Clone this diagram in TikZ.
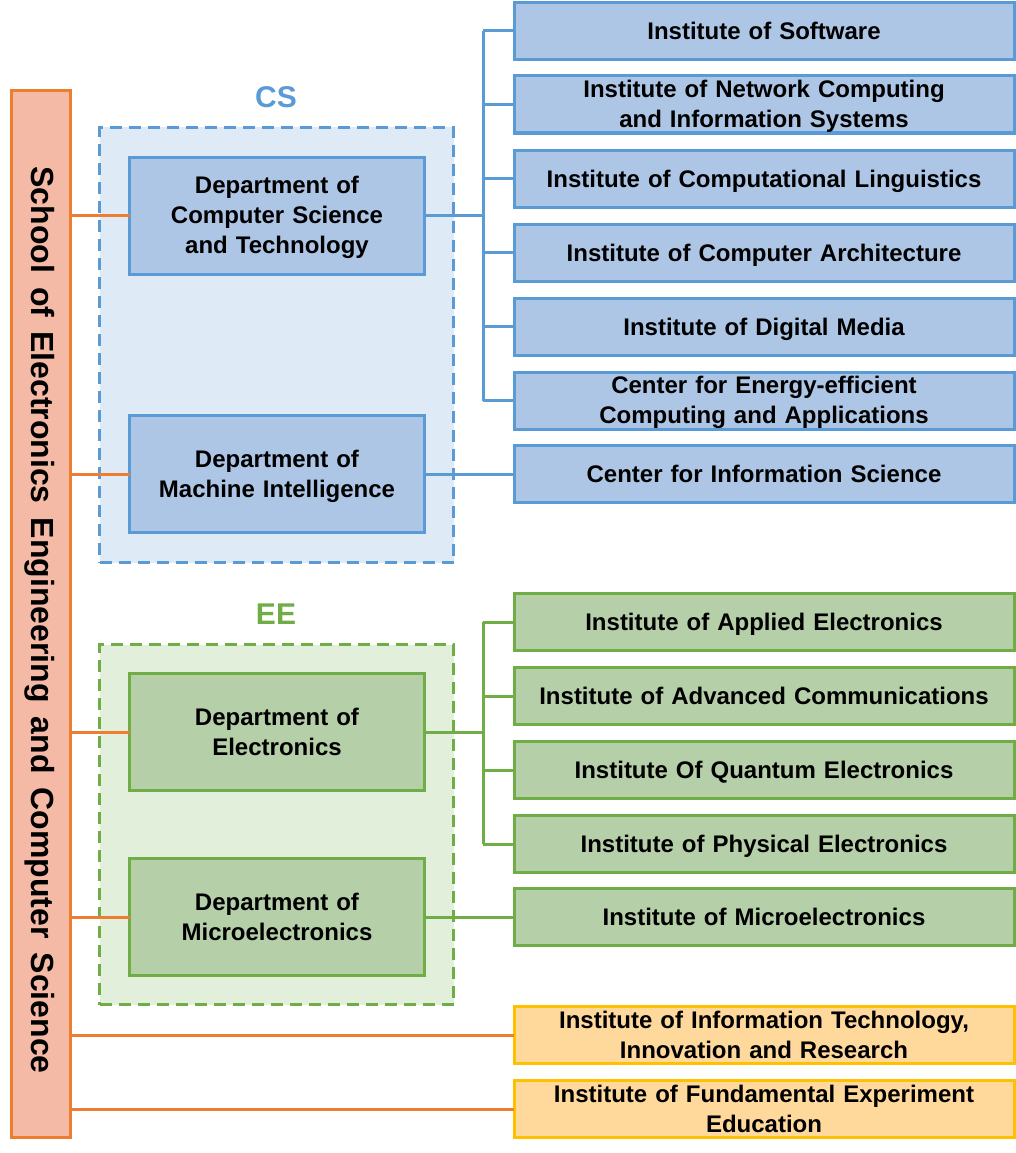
\documentclass[tikz,border=0pt]{standalone}
\usepackage{fontspec}
\setmainfont{Liberation Sans}
\definecolor{bstroke}{HTML}{5B9BD5}
\definecolor{bfill}{HTML}{ADC6E6}
\definecolor{blight}{HTML}{DEEAF6}
\definecolor{gstroke}{HTML}{70AD47}
\definecolor{gfill}{HTML}{B5CFA8}
\definecolor{glight}{HTML}{E2EFDA}
\definecolor{ostroke}{HTML}{ED7D31}
\definecolor{ofill}{HTML}{F4BAA5}
\definecolor{ystroke}{HTML}{FFC000}
\definecolor{yfill}{HTML}{FFD99C}
\newcommand{\topstrut}{\rule{0pt}{23pt}}
\newcommand{\botstrut}{\rule[-5.8pt]{0pt}{5.8pt}}
\newcommand{\mlx}[1]{\raisebox{0pt}[\dimexpr(\height+5.2pt-\depth)/2\relax][\dimexpr(\depth-5.2pt-\height)/2\relax]{\begin{tabular}{@{}c@{}}#1\end{tabular}}}
\newcommand{\boxfont}{\bfseries\fontsize{24}{30}\selectfont\spaceskip=8pt plus 1pt\relax}
\newcommand{\schoolfont}{\bfseries\fontsize{32}{36}\selectfont\spaceskip=14pt\relax}
\tikzset{
  box/.style={draw, line width=3pt, rectangle, inner sep=0pt, outer sep=0pt,
    font=\boxfont, text=black,
    execute at begin node={\topstrut}, execute at end node={\botstrut}},
  multi/.style={execute at begin node={}, execute at end node={}},
  plainbox/.style={draw, line width=3pt, rectangle, inner sep=0pt, outer sep=0pt},
  inst/.style={box, minimum width=500pt, minimum height=57pt},
  dept/.style={box, multi, minimum width=295pt, minimum height=117pt},
  bluebox/.style={draw=bstroke, fill=bfill},
  greenbox/.style={draw=gstroke, fill=gfill},
  yellowbox/.style={draw=ystroke, fill=yfill},
  group/.style={draw, dash pattern=on 12pt off 7pt, line width=2.5pt, rectangle, inner sep=0pt, outer sep=0pt,
    minimum width=354pt},
  conn/.style={line width=3pt},
  glabel/.style={font=\bfseries\fontsize{30}{36}\selectfont}
}
\begin{document}
\begin{tikzpicture}[x=1pt,y=-1pt]
\useasboundingbox (0,0) rectangle (1016,1153);
% groups
\node[group, draw=bstroke, fill=blight, minimum height=435pt] (csg) at (276.5,345) {};
\node[group, draw=gstroke, fill=glight, minimum height=360pt] (eeg) at (276.5,824.5) {};
\node[glabel, text=bstroke] (cslab) at (276,97) {CS};
\node[glabel, text=gstroke] (eelab) at (276,614) {EE};
% school
\node[plainbox, draw=ostroke, fill=ofill, minimum width=59pt, minimum height=1047pt] (school) at (41,614) {};
\node[font=\schoolfont, rotate=-90, inner sep=0pt] (schooltext) at (40,620) {School of Electronics Engineering and Computer Science};
% departments
\node[dept, bluebox] (cs1) at (277,215.5) {\mlx{Department of\\Computer Science\\and Technology}};
\node[dept, bluebox] (cs2) at (277,474) {\mlx{Department of\\Machine Intelligence}};
\node[dept, greenbox] (ee1) at (277,732) {\mlx{Department of\\Electronics}};
\node[dept, greenbox] (ee2) at (277,917) {\mlx{Department of\\Microelectronics}};
% institutes CS
\node[inst, bluebox] (i1) at (764,31) {Institute of Software};
\node[inst, bluebox, multi] (i2) at (764,104.5) {\mlx{Institute of Network Computing\\and Information Systems}};
\node[inst, bluebox] (i3) at (764,178.5) {Institute of Computational Linguistics};
\node[inst, bluebox] (i4) at (764,252.5) {Institute of Computer Architecture};
\node[inst, bluebox] (i5) at (764,326.5) {Institute of Digital Media};
\node[inst, bluebox, multi] (i6) at (764,400.5) {\mlx{Center for Energy-efficient\\Computing and Applications}};
\node[inst, bluebox] (i7) at (764,474) {Center for Information Science};
% institutes EE
\node[inst, greenbox] (e1) at (764,622) {Institute of Applied Electronics};
\node[inst, greenbox] (e2) at (764,696) {Institute of Advanced Communications};
\node[inst, greenbox] (e3) at (764,770) {Institute Of Quantum Electronics};
\node[inst, greenbox] (e4) at (764,844) {Institute of Physical Electronics};
\node[inst, greenbox] (e5) at (764,917) {Institute of Microelectronics};
% others
\node[inst, yellowbox, multi] (y1) at (764,1035) {\mlx{Institute of Information Technology,\\Innovation and Research}};
\node[inst, yellowbox, multi] (y2) at (764,1109) {\mlx{Institute of Fundamental Experiment\\Education}};
% bus coordinate
\coordinate (busx) at (483,0);
% orange connectors
\foreach \n in {cs1,cs2,ee1,ee2,y1,y2}
  \draw[conn, ostroke] (school.east |- \n.west) -- (\n.west);
% blue connectors
\draw[conn, bstroke] (cs1.east) -- (cs1.east -| busx);
\draw[conn, bstroke] (busx |- i1.west) -- (busx |- i6.west);
\foreach \n in {i1,i2,i3,i4,i5,i6}
  \draw[conn, bstroke] (busx |- \n.west) -- (\n.west);
\draw[conn, bstroke] (cs2.east) -- (i7.west);
% green connectors
\draw[conn, gstroke] (ee1.east) -- (ee1.east -| busx);
\draw[conn, gstroke] (busx |- e1.west) -- (busx |- e4.west);
\foreach \n in {e1,e2,e3,e4}
  \draw[conn, gstroke] (busx |- \n.west) -- (\n.west);
\draw[conn, gstroke] (ee2.east) -- (e5.west);
\end{tikzpicture}
\end{document}
